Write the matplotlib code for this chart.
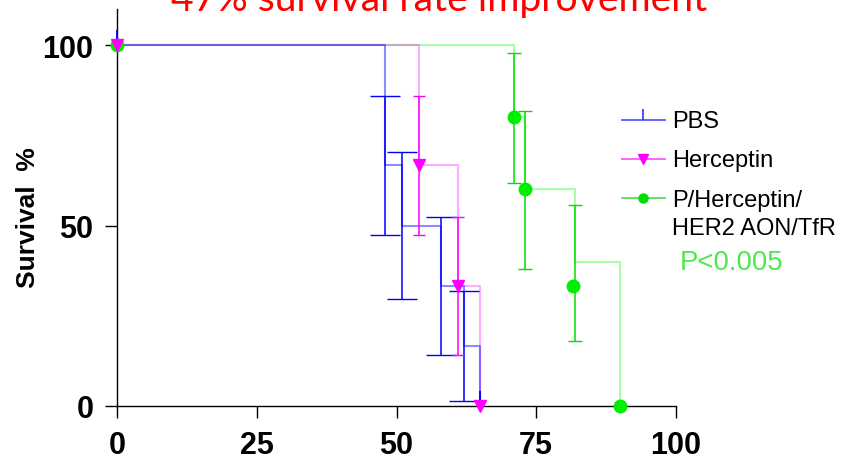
import matplotlib
matplotlib.use('Agg')
import matplotlib.pyplot as plt
from matplotlib.lines import Line2D

W, H, DPI = 851, 460, 100

# ---------------- data ----------------
pbs_time = [0, 48, 51, 58, 62, 65]
pbs_surv = [100, 66.7, 50.0, 33.3, 16.7, 0]
pbs_err_t = [48, 51, 58, 62]
pbs_err_y = [66.7, 50.0, 33.3, 16.7]
pbs_err_lo = [47.4, 29.6, 14.1, 1.4]
pbs_err_hi = [85.8, 70.3, 52.5, 31.8]
pbs_mark_t = [0, 65]
pbs_mark_y = [100, 0]

her_time = [0, 54, 61, 65]
her_surv = [100, 66.7, 33.3, 0]
her_err_t = [54, 61]
her_err_y = [66.7, 33.3]
her_err_lo = [47.4, 14.1]
her_err_hi = [85.8, 52.5]

com_time = [0, 71, 73, 82, 90]
com_surv = [100, 80, 60, 40, 0]
com_mark_t = [0, 71, 73, 81.5, 90]
com_mark_y = [100, 80, 60, 33.3, 0]
com_err_t = [71, 73, 82]
com_err_y = [80, 60, 33.3]
com_err_lo = [61.9, 37.9, 18.1]
com_err_hi = [97.7, 81.8, 55.6]

x_ticks = [0, 25, 50, 75, 100]
y_ticks = [0, 50, 100]

labels = ['PBS', 'Herceptin', 'P/Herceptin/', 'HER2 AON/TfR']
title = '47% survival rate improvement'
ylabel = 'Survival  %'
pval = 'P<0.005'

# ---------------- figure ----------------
fig = plt.figure(figsize=(W / DPI, H / DPI), dpi=DPI)
fx = lambda px: px / W
fy = lambda py: 1 - py / H

ax = fig.add_axes([fx(117), fy(407), (676 - 117) / W, (407 - 10) / H])
ax.set_xlim(0, 100)
ax.set_ylim(0, 110)

BLUE, MAG, GRN = '#0000ff', '#ff00ff', '#00e000'

# step lines (light)
ax.step(com_time, com_surv, where='post', color='#00ff00', alpha=0.35, lw=1.5, zorder=2)
ax.step(her_time, her_surv, where='post', color='#ff00ff', alpha=0.32, lw=1.5, zorder=2.1)
ax.step(pbs_time, pbs_surv, where='post', color='#0000ff', alpha=0.45, lw=1.5, zorder=2.2)

def err(t, y, lo, hi):
    return [[yy - l for yy, l in zip(y, lo)], [h - yy for yy, h in zip(y, hi)]]

ax.errorbar(pbs_err_t, pbs_err_y, yerr=err(pbs_err_t, pbs_err_y, pbs_err_lo, pbs_err_hi),
            fmt='none', ecolor=BLUE, elinewidth=1.1, capsize=10.8, capthick=1.0, zorder=3)
ax.errorbar(her_err_t, her_err_y, yerr=err(her_err_t, her_err_y, her_err_lo, her_err_hi),
            fmt='none', ecolor=MAG, elinewidth=1.1, capsize=4.3, capthick=1.0, zorder=3)
ax.errorbar(com_err_t, com_err_y, yerr=err(com_err_t, com_err_y, com_err_lo, com_err_hi),
            fmt='none', ecolor=GRN, elinewidth=1.1, capsize=4.7, capthick=1.0, zorder=3)

# markers
ax.plot(pbs_mark_t, pbs_mark_y, ls='none', marker=2, ms=11, mew=1.3, color=BLUE,
        clip_on=False, zorder=5)
ax.plot(com_mark_t, com_mark_y, ls='none', marker='o', ms=9, color='#00ee00',
        mec='#00ee00', clip_on=False, zorder=4)
ax.plot(her_time, her_surv, ls='none', marker='v', ms=9, color=MAG, mec=MAG,
        clip_on=False, zorder=5)

# axes styling
for s in ['top', 'right']:
    ax.spines[s].set_visible(False)
for s in ['left', 'bottom']:
    ax.spines[s].set_linewidth(1.0)
ax.set_xticks(x_ticks)
ax.set_yticks(y_ticks)
ax.tick_params(axis='both', direction='out', length=8.6, width=1.0)
ax.tick_params(axis='y', pad=8.5)
ax.tick_params(axis='x', pad=9.0)
for lab in ax.get_xticklabels() + ax.get_yticklabels():
    lab.set_fontfamily('Liberation Sans')
    lab.set_fontweight('bold')
    lab.set_fontsize(22)

# y label
fig.text(fx(28), fy(218), ylabel, rotation=90, ha='center', va='center',
         fontweight='bold', fontsize=19, family='Liberation Sans')

# title (partly cut off at top as in the reference)
fig.text(fx(439), fy(11), title, color='red', fontsize=28.2, family='Lato',
         ha='center', va='baseline')

# manual legend
lx0, lx1, lxc, tx = 622, 665, 643, 672
leg = [
    (121, '#5a5aff', dict(marker=2, ms=8, mew=1.2, color='#3030ff'), labels[0], 128),
    (160, '#ff55ff', dict(marker='v', ms=7, color=MAG, mec=MAG), labels[1], 167),
    (199, '#55dd55', dict(marker='o', ms=6.5, color='#00dd00', mec='#00dd00'), labels[2], 207),
]
for ly, lc, mk, txt, base in leg:
    fig.add_artist(Line2D([fx(lx0), fx(lx1)], [fy(ly), fy(ly)], color=lc, lw=1.3,
                          transform=fig.transFigure))
    fig.add_artist(Line2D([fx(lxc)], [fy(ly)], ls='none', transform=fig.transFigure, **mk))
    fig.text(fx(tx), fy(base), txt, fontsize=17, family='Liberation Sans',
             ha='left', va='baseline')
fig.text(fx(tx), fy(235), labels[3], fontsize=17, family='Liberation Sans',
         ha='left', va='baseline')
fig.text(fx(680), fy(270), pval, fontsize=19.8, family='Liberation Sans',
         color='#4ee84e', ha='left', va='baseline')

fig.savefig('out.png', dpi=DPI)
